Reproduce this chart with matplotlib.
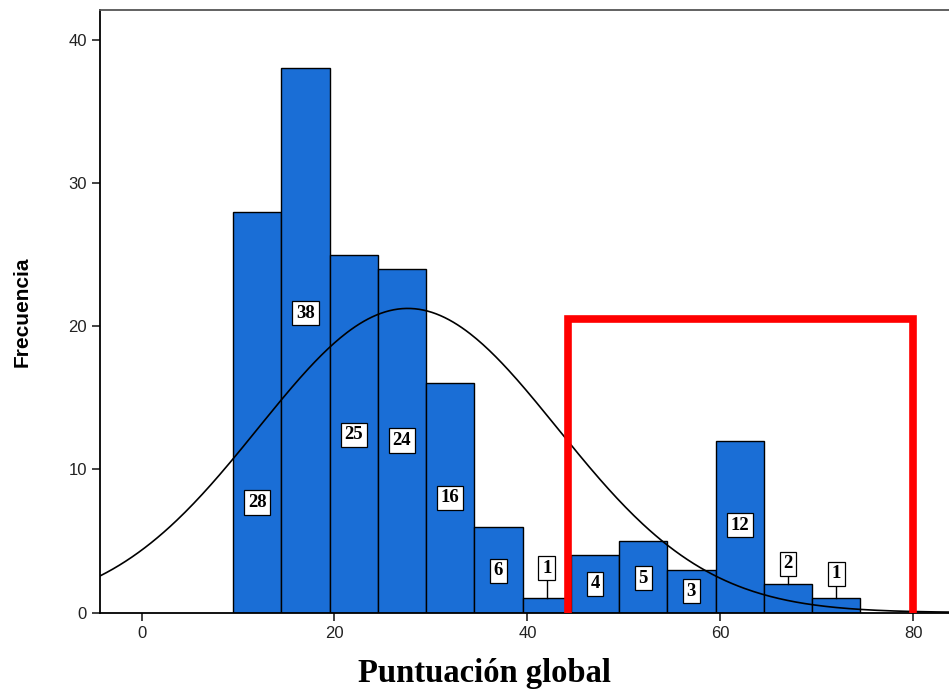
import numpy as np
import matplotlib.pyplot as plt

# histogram of "Puntuación global"
bin_edges = [9.5, 14.5, 19.5, 24.5, 29.5, 34.5, 39.5, 44.5, 49.5, 54.5, 59.5, 64.5, 69.5, 74.5]
counts = [28, 38, 25, 24, 16, 6, 1, 4, 5, 3, 12, 2, 1]
# height of each count label (boxes sit inside the bar, or above it for the small ones)
label_y = [7.7, 20.9, 12.4, 12.0, 8.0, 2.9, 3.1, 2.0, 2.4, 1.5, 6.1, 3.4, 2.7]
above_bar = [False, False, False, False, False, False, True, False, False, False, False, True, True]

# normal curve
curve_mean = 27.6
curve_std = 15.5

# highlighted region (red frame)
box_x = [44.2, 44.2, 80.0, 80.0]
box_y = [0, 20.5, 20.5, 0]

plt.rcParams['font.family'] = ['Liberation Sans', 'DejaVu Sans']

fig = plt.figure(figsize=(9.49, 6.89), dpi=100)
ax = fig.add_axes([0.1054, 0.111, 0.8946, 0.874])

widths = np.diff(bin_edges)
ax.bar(bin_edges[:-1], counts, width=widths, align='edge',
       color='#1a6ed6', edgecolor='black', linewidth=1.0, zorder=2)

# normal curve scaled to counts
n = sum(counts)
bw = widths[0]
xs = np.linspace(-4.3, 83.7, 400)
ys = n * bw / (curve_std * np.sqrt(2 * np.pi)) * np.exp(-0.5 * ((xs - curve_mean) / curve_std) ** 2)
ax.plot(xs, ys, color='black', linewidth=1.2, zorder=3)

# count labels
for left, w, c, ly, up in zip(bin_edges[:-1], widths, counts, label_y, above_bar):
    cx = left + w / 2
    if up:
        ax.plot([cx, cx], [c, ly - 0.7], color='black', linewidth=1.0, zorder=4)
    ax.text(cx, ly, str(c), ha='center', va='center', fontsize=13.5, fontweight='bold',
            family=['Liberation Serif', 'DejaVu Serif'], zorder=5,
            bbox=dict(boxstyle='square,pad=0.2', facecolor='white', edgecolor='black', linewidth=0.9))

ax.plot(box_x, box_y, color='#ff0000', linewidth=5.5, solid_joinstyle='miter', zorder=6)

ax.set_xlim(-4.3, 83.7)
ax.set_ylim(0, 42.05)
ax.set_xticks([0, 20, 40, 60, 80])
ax.set_yticks([0, 10, 20, 30, 40])
ax.tick_params(direction='out', length=6, width=1.2, labelsize=12, colors='#222222')
ax.spines['right'].set_visible(False)
for s in ['left', 'bottom', 'top']:
    ax.spines[s].set_linewidth(1.3)
ax.spines['top'].set_color('#555555')

fig.text(0.51, 0.022, 'Puntuación global', ha='center', va='center', fontsize=23.5,
         fontweight='bold', family=['Liberation Serif', 'DejaVu Serif'])
ax.set_ylabel('Frecuencia', fontsize=15, fontweight='bold', labelpad=26)

fig.savefig('out.png', dpi=100)
